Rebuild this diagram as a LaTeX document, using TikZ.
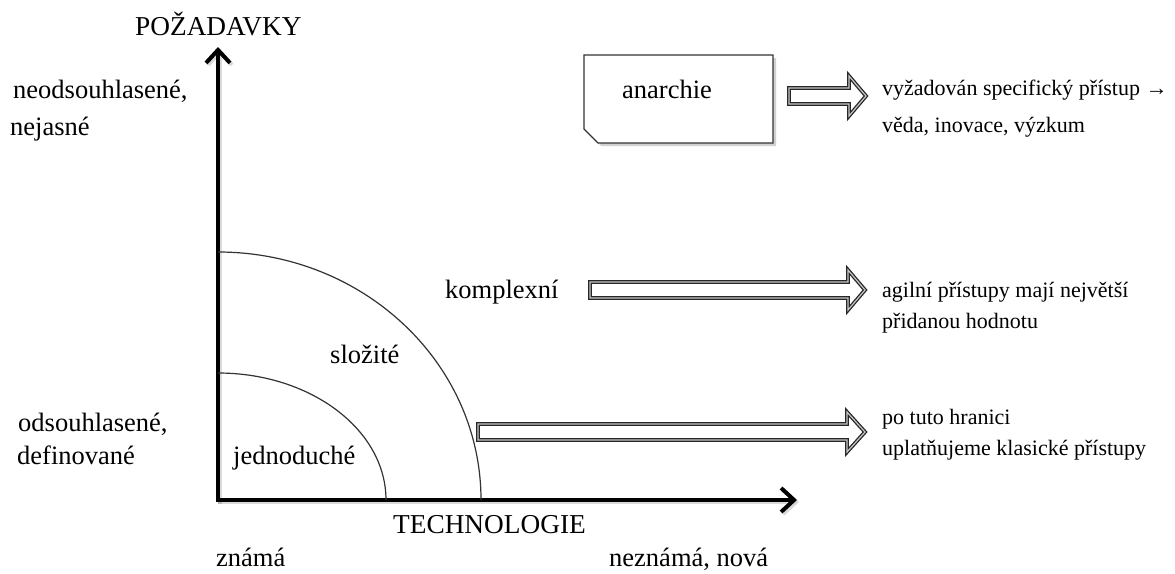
\documentclass[tikz,border=0pt]{standalone}
\usepackage{fontspec}
\setmainfont{Liberation Serif}
\usetikzlibrary{arrows.meta,calc}

% hollow block arrow: tail x, head start x, tip x, centre y
\newcommand\hollowarrow[4]{%
  \draw[hollow] (#1,#4-8) -- (#2,#4-8) -- (#2,#4-20) -- (#3,#4)
    -- (#2,#4+20) -- (#2,#4+8) -- (#1,#4+8) -- cycle;}

\begin{document}
\begin{tikzpicture}[x=1pt,y=-1pt,
  lbl/.style={inner sep=0pt, anchor=base west, font=\fontsize{26.5}{30}\selectfont},
  caps/.style={lbl, font=\fontsize{27.3}{30}\selectfont},
  note/.style={inner sep=0pt, anchor=base west, font=\fontsize{22}{25}\selectfont},
  axis/.style={line width=4pt, -{Straight Barb[length=13pt,width=24pt]}},
  axisshadow/.style={line width=4pt, draw=black, opacity=0.15, -{Straight Barb[length=13pt,width=24pt]}},
  band/.style={draw=black!80, line width=1.2pt},
  hollow/.style={draw=black!85, line width=1.3pt, double=black!22, double distance=1.2pt, fill=white, line join=miter},
  boxline/.style={draw=black!80, line width=1.3pt, fill=white},
]
\useasboundingbox (0,0) rectangle (1175,573);
\fill[white] (0,0) rectangle (1175,573);

% axes
\coordinate (O) at (218,500);
\coordinate (ytip) at (218,47);
\coordinate (xtip) at (797,500);
\draw[axisshadow] ($(O)+(2,4)$) -- ($(ytip)+(2,2)$);
\draw[axisshadow] ($(O)+(0,2)$) -- ($(xtip)+(2,2)$);
\draw[axis] ($(O)+(0,2)$) -- (ytip);
\draw[axis] ($(O)+(-2,0)$) -- (xtip);

% quarter arcs
\draw[band] (218,373) arc[start angle=-90, end angle=0, x radius=168, y radius=127];
\draw[band] (218,252) arc[start angle=-90, end angle=0, x radius=263, y radius=248];

% snipped box
\fill[black, opacity=0.18] (587,58) -- (776,58) -- (776,146) -- (601,146) -- (587,132) -- cycle;
\draw[boxline] (584,55) -- (773,55) -- (773,143) -- (598,143) -- (584,129) -- cycle;
\node[lbl] (anarchie) at (622,98) {anarchie};

% block arrows
\hollowarrow{789}{849}{866}{96}
\hollowarrow{590}{848}{865}{290}
\hollowarrow{478}{847}{865}{432}

% axis titles
\node[caps] (pozadavky) at (135,35) {POŽADAVKY};
\node[caps] (technologie) at (393,533) {TECHNOLOGIE};

% axis ends
\node[lbl] (neods) at (13,98) {neodsouhlasené,};
\node[lbl] (nejasne) at (10,135) {nejasné};
\node[lbl] (odsouhl) at (18,431) {odsouhlasené,};
\node[lbl] (definovane) at (17,464) {definované};
\node[lbl] (znama) at (216,566) {známá};
\node[lbl] (neznama) at (609,566) {neznámá, nová};

% regions
\node[lbl] (jednoduche) at (233,464) {jednoduché};
\node[lbl] (slozite) at (330,363) {složité};
\node[lbl] (komplexni) at (445,298) {komplexní};

% notes
\node[note] (n1a) at (882,95) {vyžadován specifický přístup →};
\node[note] (n1b) at (882,132) {věda, inovace, výzkum};
\node[note] (n2a) at (882,297) {agilní přístupy mají největší};
\node[note] (n2b) at (882,328) {přidanou hodnotu};
\node[note] (n3a) at (882,424) {po tuto hranici};
\node[note] (n3b) at (882,455) {uplatňujeme klasické přístupy};
\end{tikzpicture}
\end{document}
